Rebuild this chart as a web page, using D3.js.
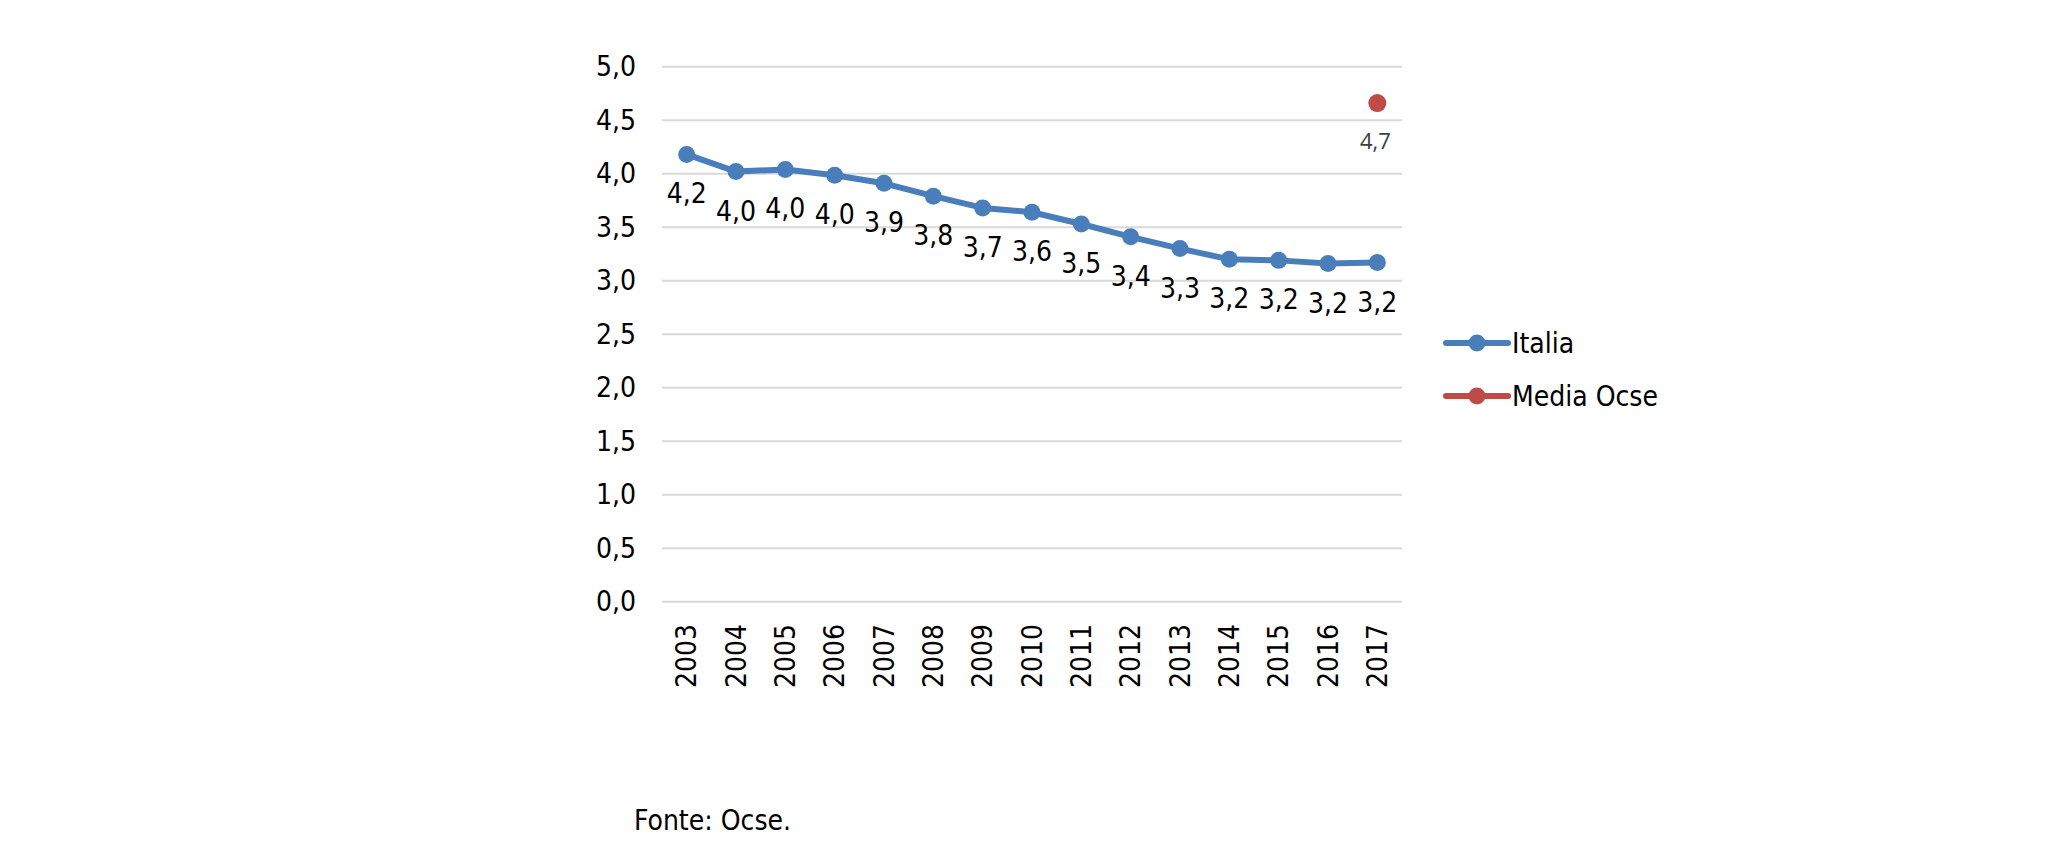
<!DOCTYPE html>
<html><head><meta charset="utf-8">
<script src="https://cdn.jsdelivr.net/npm/d3@7"></script>
<style>body{margin:0;background:#fff;} svg{display:block;font-family:"DejaVu Sans Condensed","DejaVu Sans",Verdana,sans-serif;}</style>
</head><body>
<svg id="c" width="2047" height="850"></svg>
<script>
const years = ["2003","2004","2005","2006","2007","2008","2009","2010","2011","2012","2013","2014","2015","2016","2017"];
const italia = [4.18,4.02,4.04,3.985,3.91,3.79,3.68,3.64,3.53,3.41,3.30,3.20,3.19,3.16,3.17];
const mediaOcseYears = ["2017"];
const mediaOcse = [4.66];
const yTicks = [0,0.5,1,1.5,2,2.5,3,3.5,4,4.5,5];
const seriesNames = ["Italia","Media Ocse"];
const colors = ["#4a7ebb","#be4b48"];

const FONT = "DejaVu Sans Condensed, DejaVu Sans, Verdana, sans-serif";
const svg = d3.select("#c");
const fmt = v => v.toFixed(1).replace(".", ",");
const x = d3.scaleBand().domain(years).range([662,1402]);
const cx = d => x(d) + x.bandwidth()/2;
const y = d3.scaleLinear().domain([0,5]).range([601.7,66.7]);

// gridlines
svg.append("g").selectAll("line").data(yTicks).join("line")
  .attr("x1",662).attr("x2",1402).attr("y1",d=>y(d)).attr("y2",d=>y(d))
  .attr("stroke","#d9d9d9").attr("stroke-width",2);

// y axis labels
const yAxis = d3.axisLeft(y).tickValues(yTicks).tickFormat(fmt).tickSize(0).tickPadding(0);
const yg = svg.append("g").attr("transform","translate(636,0)").call(yAxis);
yg.select(".domain").remove();
yg.selectAll("text").attr("font-size",28).attr("fill","#000").attr("font-family",FONT);

// x axis labels
const xAxis = d3.axisBottom(x).tickSize(0).tickPadding(0);
const xg = svg.append("g").attr("transform","translate(0,602)").call(xAxis);
xg.select(".domain").remove();
xg.selectAll("text").attr("font-size",28).attr("fill","#000")
  .attr("font-family",FONT)
  .attr("transform","rotate(-90)").attr("text-anchor","end")
  .attr("x",-22).attr("y",0).attr("dy","0.35em");

// Italia line
const line = d3.line().x((d,i)=>cx(years[i])).y(d=>y(d));
svg.append("path").datum(italia).attr("d",line).attr("fill","none")
  .attr("stroke",colors[0]).attr("stroke-width",6).attr("stroke-linejoin","round").attr("stroke-linecap","round");
svg.append("g").selectAll("circle").data(italia).join("circle")
  .attr("cx",(d,i)=>cx(years[i])).attr("cy",d=>y(d)).attr("r",8.5).attr("fill",colors[0]);
svg.append("g").selectAll("text").data(italia).join("text")
  .attr("x",(d,i)=>cx(years[i])).attr("y",d=>y(d)+49).attr("text-anchor","middle")
  .attr("font-size",28).attr("fill","#000").attr("font-family",FONT).text(fmt);

// Media Ocse
svg.append("g").selectAll("circle").data(mediaOcse).join("circle")
  .attr("cx",(d,i)=>cx(mediaOcseYears[i])).attr("cy",d=>y(d)).attr("r",9).attr("fill",colors[1]);
svg.append("g").selectAll("text").data(mediaOcse).join("text")
  .attr("x",(d,i)=>cx(mediaOcseYears[i])-2).attr("y",d=>y(d)+46).attr("text-anchor","middle")
  .attr("font-size",22).attr("fill","#404040").attr("font-family","Open Sans, DejaVu Sans, sans-serif").text(fmt);

// legend
const lg = svg.append("g").selectAll("g").data(seriesNames).join("g")
  .attr("transform",(d,i)=>`translate(1446,${343+i*53})`);
lg.append("line").attr("x1",0).attr("x2",62).attr("y1",0).attr("y2",0)
  .attr("stroke",(d,i)=>colors[i]).attr("stroke-width",6).attr("stroke-linecap","round");
lg.append("circle").attr("cx",31).attr("cy",0).attr("r",8.5).attr("fill",(d,i)=>colors[i]);
lg.append("text").attr("x",66).attr("y",0).attr("dy","0.35em").attr("font-size",28)
  .attr("font-family",FONT).attr("fill","#000").text(d=>d);

// source
svg.append("text").attr("x",634).attr("y",830).attr("font-size",28).attr("font-family",FONT)
  .attr("fill","#000").text("Fonte: Ocse.");
</script>
</body></html>
